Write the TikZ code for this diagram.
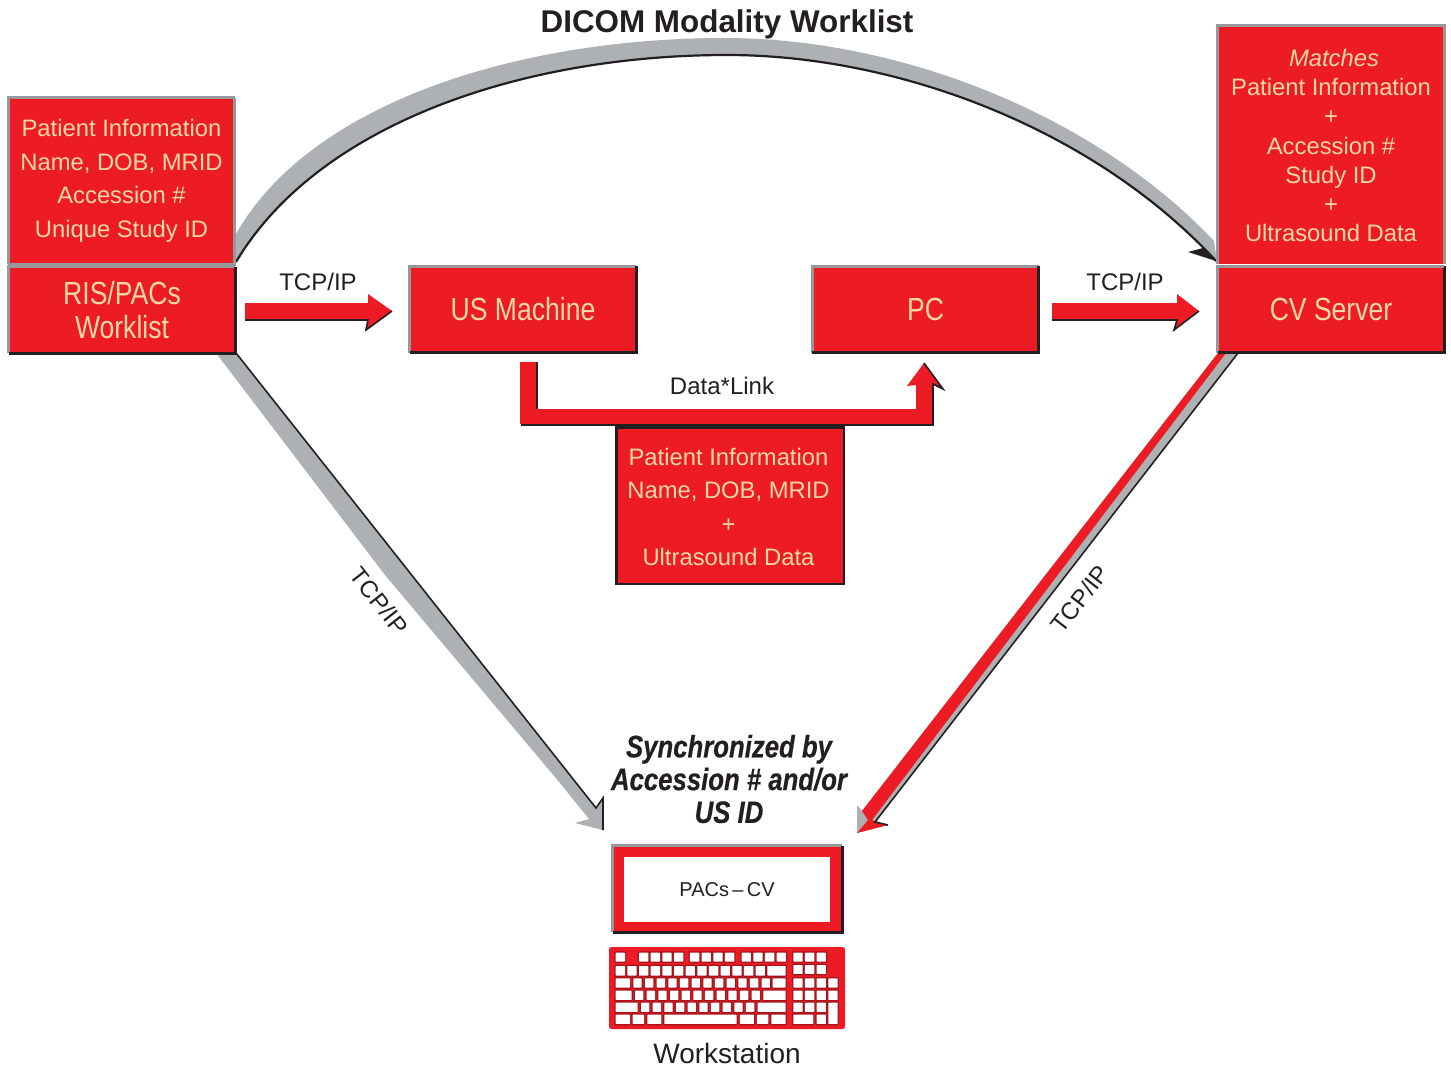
\documentclass[tikz,border=0pt]{standalone}
\usepackage{fontspec}
\setmainfont{Liberation Sans}
\newfontfamily\condf[FakeStretch=0.83]{Liberation Sans}
\newfontface\condb[FakeStretch=0.83,FakeBold=0.4]{Liberation Sans Bold Italic}
\definecolor{dred}{HTML}{ED1C24}
\definecolor{cream}{HTML}{F6D8A4}
\definecolor{gedge}{HTML}{969899}
\definecolor{gshaft}{HTML}{AEB1B3}
\definecolor{dk}{HTML}{231F20}
\definecolor{keyb}{HTML}{A8141C}
\tikzset{
  redbox/.style={fill=dred,inner sep=0pt,text=cream,align=center,minimum width=#1},
  redbox/.default=226pt,
  body/.style={font=\fontsize{23.8}{33.5}\selectfont},
  head/.style={font=\condf\fontsize{32}{34}\selectfont},
  plain/.style={text=dk,inner sep=0pt,font=\fontsize{24}{28}\selectfont},
  shadow/.style={line width=1.6pt,dk,line join=miter},
  keycap/.style={fill=white,draw=none,rounded corners=0.6pt,preaction={draw=keyb,line width=2.6pt}},
}
\newcommand{\bevel}[3]{%
  \draw[line width=3pt,#2] (#1.south west) -- (#1.north west) -- (#1.north east);
  \draw[line width=3pt,#3] (#1.north east) -- (#1.south east) -- (#1.south west);}
\begin{document}
\begin{tikzpicture}[x=1pt,y=-1pt]
\useasboundingbox (0,0) rectangle (1451,1066);
\fill[white] (0,0) rectangle (1451,1066);

% boxes
\node[redbox,body,minimum height=166pt] (info) at (121.5,181) {Patient Information\\Name, DOB, MRID\\Accession \#\\Unique Study ID};
\node[redbox,head,minimum height=86pt] (ris) at (122,310) {RIS/PACs\\Worklist};
\node[redbox,head,minimum height=86pt] (us) at (523,309.5) {US Machine};
\node[redbox,head,minimum height=86pt] (pc) at (925.5,309.5) {PC};
\node[redbox,head,minimum height=86pt] (cv) at (1331,309.5) {CV Server};
\node[redbox,minimum height=238pt] (match) at (1331,145) {};
\node[text=cream,align=center,inner sep=0pt,font=\fontsize{23.8}{29.3}\selectfont] (matcht) at (1331,145.5) {\hspace*{6pt}\textit{Matches}\\Patient Information\\+\\Accession \#\\Study ID\\+\\Ultrasound Data};
\node[redbox=227pt,minimum height=156pt] (data) at (730,505.5) {};
\node[body,text=cream,align=center,inner sep=0pt] (datat) at (728.5,507) {Patient Information\\Name, DOB, MRID\\+\\Ultrasound Data};

% big arc
\coordinate (arcA) at (236,262);
\coordinate (arcB) at (1216,261);
\coordinate (arcTop) at (727,55);
\fill[gshaft] (236,234) .. controls (310,103) and (518,38) .. (725,38) .. controls (900,38) and (1095,115) .. (1214,241) -- (1217,262) -- (arcB) .. controls (1095,130) and (900,55) .. (arcTop) .. controls (522,55) and (318,124) .. (arcA) -- cycle;
\draw[line width=2.2pt,dk] (arcA) .. controls (318,124) and (522,55) .. (arcTop) .. controls (900,55) and (1095,130) .. (arcB);
\fill[dk] (arcB) -- (1188,252) -- (1203,248) -- cycle;

% left diagonal arrow
\coordinate (wsL) at (603,830);
\fill[gshaft] (216,353) -- (236,353) -- (596,808) -- (603,798) -- (wsL) -- (575,823) -- (589,819) -- (560,783) -- (385,575) -- cycle;
\draw[line width=1.6pt,dk] (236,353) -- (596,808) -- (603,798) -- (wsL);

% right diagonal arrow
\coordinate (wsR) at (857,833);
\fill[gshaft] (1218,353) -- (1238,353) -- (875,822) -- (888,825) -- (wsR) -- (857,805) -- (862,811) -- cycle;
\fill[dred] (1218,353) -- (1226,353) -- (872,820) -- (888,825) -- (wsR) -- (868,820) -- (862,811) -- cycle;
\draw[line width=1.6pt,dk] (1238,353) -- (875,822) -- (888,825);

% horizontal red arrows
\coordinate (a1s) at (245,303);
\fill[dred] (a1s) -- (368,303) -- (368,294) -- (392,311) -- (366,330) -- (369,319) -- (245,319) -- cycle;
\draw[shadow] (245,320) -- (368,320) -- (366,330) -- (392,311);
\coordinate (a2s) at (1052,303);
\fill[dred] (a2s) -- (1177,303) -- (1177,294) -- (1199,311) -- (1174,330) -- (1177,319) -- (1052,319) -- cycle;
\draw[shadow] (1052,320) -- (1177,320) -- (1174,330) -- (1199,311);

% data link arrow
\coordinate (dls) at (520,362);
\fill[dred] (dls) -- (537,362) -- (537,409) -- (916,409) -- (916,385) -- (907,386) -- (924,363) -- (943,389) -- (933,384) -- (933,424) -- (520,424) -- cycle;
\draw[shadow] (537,362) -- (537,409);
\draw[shadow] (924,363) -- (943,389) -- (933,384) -- (933,425) -- (521,425);

% bevels
\bevel{info}{gedge}{gedge}
\bevel{ris}{gedge}{dk}
\bevel{us}{gedge}{dk}
\bevel{pc}{gedge}{dk}
\bevel{cv}{gedge}{dk}
\draw[line width=3pt,gedge] (match.south west) -- (match.north west) -- (match.north east) -- (match.south east);
\draw[line width=3pt,gedge] (cv.north west) -- (cv.north east);
\draw[line width=2.4pt,dk] (data.south west) rectangle (data.north east);

% texts
\node[font=\bfseries\fontsize{31.4}{34}\selectfont,text=dk,inner sep=0pt] (title) at (727,24) {DICOM Modality Worklist};
\node[plain] (t1) at (318,282) {TCP/IP};
\node[plain] (t2) at (1125,282) {TCP/IP};
\node[plain] (t3) at (722,386) {Data*Link};
\node[plain,rotate=-52] (t4) at (379.5,601) {TCP/IP};
\node[plain,rotate=52] (t5) at (1080,599) {TCP/IP};
\node[text=dk,inner sep=0pt,align=center,font=\condb\fontsize{31}{32.8}\selectfont] (sync) at (729,779) {Synchronized by\\Accession \# and/or\\US ID};

% workstation
\node[fill=dred,minimum width=229pt,minimum height=86pt,inner sep=0pt] (screen) at (727.5,889) {};
\bevel{screen}{gedge}{dk}
\node[fill=white,minimum width=206pt,minimum height=65pt,inner sep=0pt,text=dk,font=\fontsize{20}{24}\selectfont] (crt) at (727,889.5) {PACs\,--\,CV};
\node[fill=dred,rounded corners=2.5pt,minimum width=236pt,minimum height=82pt,inner sep=0pt] (kbd) at (727,988) {};
\begin{scope}[shift={(600,830)},x=0.3333pt,y=-0.3333pt]
  % top row
  \foreach \a in {47,117,152,187,222,270,305,340,375,425,460,495,530,580,615,650}
    \fill[keycap] (\a,368) rectangle ++(28,27);
  % row 2
  \foreach \a in {47,82,117,152,187,222,257,292,327,362,397,432,467}
    \fill[keycap] (\a,408) rectangle ++(28,29);
  \foreach \a in {580,615,650}
    \fill[keycap] (\a,405) rectangle ++(28,27);
  \fill[keycap] (502,408) rectangle (557,437);
  % row 3
  \fill[keycap] (47,445) rectangle (90,473);
  \foreach \a in {100,135,170,205,240,275,310,345,380,415,450,485}
    \fill[keycap] (\a,445) rectangle ++(25,28);
  \fill[keycap] (518,445) rectangle (557,473);
  \foreach \a in {580,615,650,685}
    \fill[keycap] (\a,445) rectangle ++(28,28);
  % row 4
  \fill[keycap] (47,482) rectangle (95,510);
  \foreach \a in {105,140,175,210,245,280,315,350,385,420,455}
    \fill[keycap] (\a,482) rectangle ++(25,28);
  \fill[keycap] (490,482) rectangle (557,510);
  \foreach \a in {580,615,650,685}
    \fill[keycap] (\a,482) rectangle ++(28,28);
  % row 5
  \fill[keycap] (47,518) rectangle (113,546);
  \foreach \a in {123,158,193,228,263,298,333,368,403,438}
    \fill[keycap] (\a,518) rectangle ++(25,28);
  \fill[keycap] (473,518) rectangle (557,546);
  \foreach \a in {580,615,650}
    \fill[keycap] (\a,518) rectangle ++(28,28);
  \fill[keycap] (685,518) rectangle (713,582);
  % row 6
  \foreach \a/\b in {47/90,98/132,142/184,193/410,420/462,471/505,514/557,580/640,650/678}
    \fill[keycap] (\a,554) rectangle (\b,582);
\end{scope}
\node[plain,font=\fontsize{28}{32}\selectfont] (wsl) at (727,1053) {Workstation};
\end{tikzpicture}
\end{document}
